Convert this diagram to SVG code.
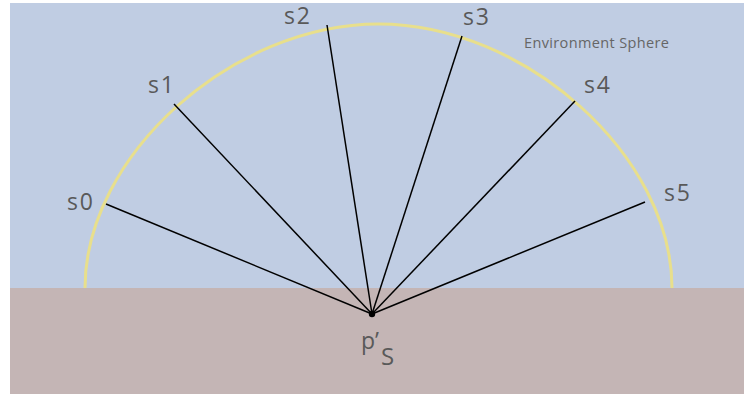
<svg xmlns="http://www.w3.org/2000/svg" width="744" height="395" viewBox="0 0 744 395">
<style>
.lbl{font-family:"Open Sans","Liberation Sans",Arial,sans-serif;font-size:23px;fill:#595959}
.ray{stroke:#000;stroke-width:1.5;fill:none}
</style>
<rect x="0" y="0" width="744" height="395" fill="#fff"/>
<g id="sky"><rect x="10" y="3" width="734" height="285" fill="#c0cde3"/></g>
<g id="sphere"><path d="M85,288 C85,156 231.75,24 378.5,24 C525.25,24 672,156 672,288" fill="none" stroke="#e8df8c" stroke-width="3"/></g>
<g id="ground"><rect x="10" y="288" width="734" height="106" fill="#c4b5b5"/></g>
<g id="connectors">
<line class="ray" x1="372" y1="314" x2="106" y2="204"/>
<line class="ray" x1="372" y1="314" x2="174" y2="104"/>
<line class="ray" x1="372" y1="314" x2="327" y2="25"/>
<line class="ray" x1="372" y1="314" x2="462" y2="36"/>
<line class="ray" x1="372" y1="314" x2="575" y2="101"/>
<line class="ray" x1="372" y1="314" x2="645" y2="202"/>
</g>
<g id="p"><circle cx="372" cy="314" r="3.2" fill="#000"/><text class="lbl" x="361" y="349" font-size="25">p’<tspan font-size="24" dx="2" dy="16">S</tspan></text></g>
<g id="s0"><text class="lbl" x="67" y="210" textLength="26">s0</text></g>
<g id="s1"><text class="lbl" x="148" y="93" textLength="26">s1</text></g>
<g id="s2"><text class="lbl" x="284" y="24" textLength="26">s2</text></g>
<g id="s3"><text class="lbl" x="463" y="25" textLength="26">s3</text></g>
<g id="s4"><text class="lbl" x="584" y="93" textLength="26">s4</text></g>
<g id="s5"><text class="lbl" x="664" y="201" textLength="26">s5</text></g>
<g id="env"><text x="524" y="48" font-family="Open Sans, Liberation Sans, Arial, sans-serif" font-size="14.5" fill="#666" textLength="145">Environment Sphere</text></g>
</svg>
